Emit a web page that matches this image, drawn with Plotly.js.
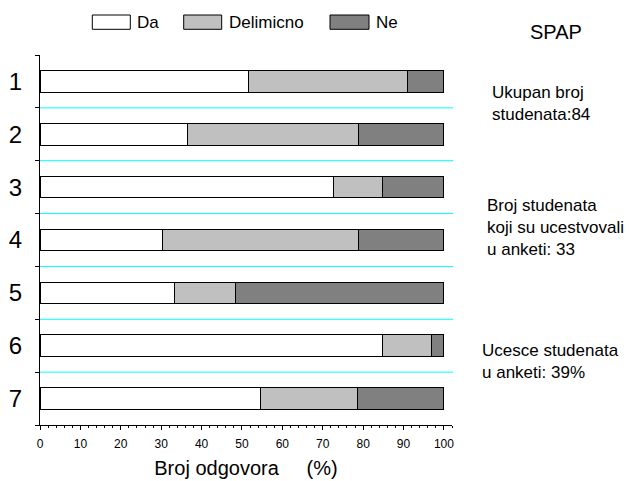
<!DOCTYPE html>
<html>
<head>
<meta charset="utf-8">
<script src="https://cdn.plot.ly/plotly-3.0.1.min.js"></script>
<style>html,body{margin:0;padding:0;background:#fff;}#chart{width:629px;height:481px;}</style>
</head>
<body>
<div id="chart"></div>
<script>
// ---- data ----
const categories = ["1", "2", "3", "4", "5", "6", "7"];
const seriesNames = ["Da", "Delimicno", "Ne"];
const da        = [51.5, 36.4, 72.7, 30.3, 33.3, 84.8, 54.5];
const delimicno = [39.4, 42.4, 12.1, 48.5, 15.2, 12.1, 24.2];
const ne        = [9.1, 21.2, 15.2, 21.2, 51.5, 3.0, 21.3];
const xTickVals = [0, 10, 20, 30, 40, 50, 60, 70, 80, 90, 100];
const titleText = "SPAP";
const notes = [
  "Ukupan broj<br>studenata:84",
  "Broj studenata<br>koji su ucestvovali<br>u anketi: 33",
  "Ucesce studenata<br>u anketi: 39%"
];

// ---- styles ----
const colors = ["#ffffff", "#c0c0c0", "#808080"];
const font = "Arial, 'Liberation Sans', sans-serif";
const yPos = categories.map((c, i) => i + 1);
const values = [da, delimicno, ne];

const traces = values.map((v, k) => ({
  type: "bar",
  orientation: "h",
  name: seriesNames[k],
  x: v,
  y: yPos,
  marker: { color: colors[k], line: { color: "#000", width: 1 } },
  showlegend: false,
  hoverinfo: "x+name"
}));

// paper coordinates helpers for the layout (plot area 40..452 x 55..425)
const px = p => (p - 40) / 412;
const py = p => (425 - p) / 370;

const shapes = [];
const annotations = [];

// cyan separators between categories
for (let i = 0; i < categories.length - 1; i++) {
  shapes.push({
    type: "line", xref: "paper", yref: "y",
    x0: 0, x1: 1.003, y0: yPos[i] + 0.5, y1: yPos[i] + 0.5,
    line: { color: "#00ffff", width: 1 }, layer: "below"
  });
}

// legend (manual, wide boxes)
const legBox = [[92.3, 130.3], [183.7, 221.7], [330, 369]];
seriesNames.forEach((n, k) => {
  shapes.push({
    type: "rect", xref: "paper", yref: "paper",
    x0: px(legBox[k][0]), x1: px(legBox[k][1]), y0: py(29.3), y1: py(15),
    fillcolor: colors[k], line: { color: "#000", width: 1 }
  });
  annotations.push({
    xref: "paper", yref: "paper", x: px(legBox[k][1] + 5), y: py(22),
    xanchor: "left", yanchor: "middle", text: n, showarrow: false,
    font: { size: 17, color: "#000", family: font }
  });
});

annotations.push({
  xref: "paper", yref: "paper", x: px(556), y: py(32),
  xanchor: "center", yanchor: "middle", text: titleText, showarrow: false,
  font: { size: 20, color: "#000", family: font }
});
const notePos = [[490, 103.5], [485, 227.5], [480, 361.5]];
notes.forEach((t, k) => {
  annotations.push({
    xref: "paper", yref: "paper", x: px(notePos[k][0]), y: py(notePos[k][1]),
    xanchor: "left", yanchor: "middle", align: "left", text: t, showarrow: false,
    font: { size: 17, color: "#000", family: font }
  });
});

const layout = {
  width: 629, height: 481,
  margin: { l: 40, r: 177, t: 55, b: 56, pad: 0 },
  paper_bgcolor: "#fff", plot_bgcolor: "#fff",
  barmode: "stack",
  bargap: 0.59,
  showlegend: false,
  font: { family: font, color: "#000" },
  xaxis: {
    range: [0, 102],
    tickvals: xTickVals,
    ticks: "outside", ticklen: 4, tickwidth: 1, tickcolor: "#000",
    ticklabelstandoff: 4,
    minor: { tickmode: "linear", tick0: 0, dtick: 2, ticks: "outside", ticklen: 2, tickcolor: "#000", showgrid: false },
    showline: true, linecolor: "#000", linewidth: 1,
    showgrid: false, zeroline: false,
    tickfont: { size: 12, family: font, color: "#000" },
    title: { text: "Broj odgovora\u00a0\u00a0\u00a0\u00a0\u00a0(%)", font: { size: 20, family: font, color: "#000" }, standoff: 10 }
  },
  yaxis: {
    range: [7.5, 0.5],
    tickvals: yPos, ticktext: categories,
    ticks: "", ticklabelstandoff: 12,
    minor: { tickmode: "linear", tick0: 0.5, dtick: 1, ticks: "outside", ticklen: 4, tickcolor: "#000", showgrid: false },
    showline: true, linecolor: "#000", linewidth: 1,
    showgrid: false, zeroline: false,
    tickfont: { size: 24, family: font, color: "#000" }
  },
  shapes: shapes,
  annotations: annotations
};

Plotly.newPlot("chart", traces, layout, { staticPlot: true, displayModeBar: false });
</script>
</body>
</html>
